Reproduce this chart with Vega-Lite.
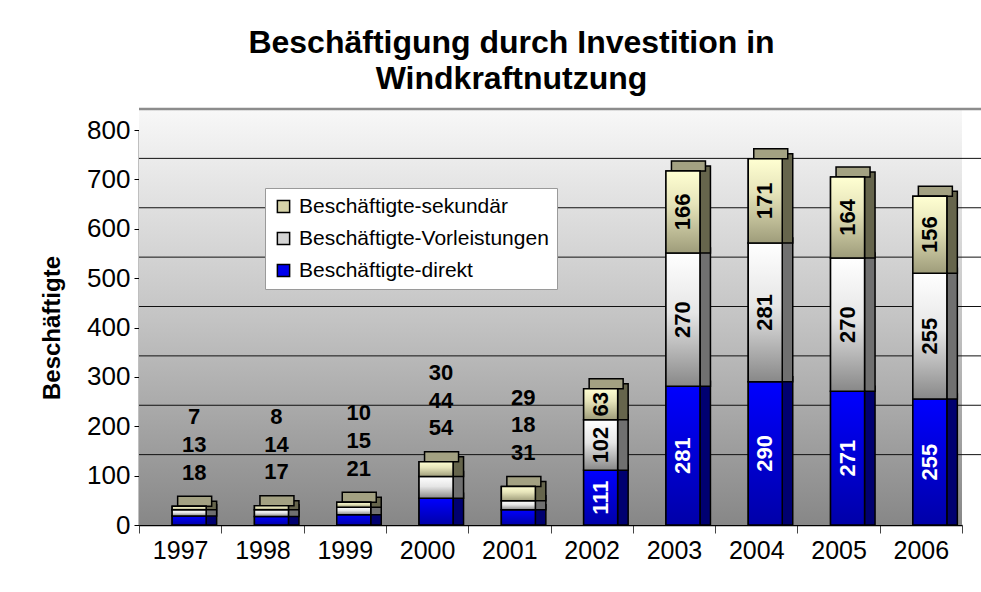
{
  "$schema": "https://vega.github.io/schema/vega-lite/v6.json",
  "autosize": {"type": "none"},
  "width": 823,
  "height": 395,
  "padding": {"left": 139, "top": 130, "right": 19, "bottom": 67},
  "background": "white",
  "title": {
    "text": ["Beschäftigung durch Investition in", "Windkraftnutzung"],
    "font": "Liberation Sans",
    "fontSize": 32,
    "fontWeight": "bold",
    "color": "black",
    "lineHeight": 36,
    "anchor": "middle",
    "dx": -39,
    "offset": 12
  },
  "config": {
    "font": "Liberation Sans",
    "view": {"stroke": null}
  },
  "datasets": {
    "bars": [
      {"year": "1997", "series": "Beschäftigte-direkt", "value": 18, "order": 0},
      {"year": "1997", "series": "Beschäftigte-Vorleistungen", "value": 13, "order": 1},
      {"year": "1997", "series": "Beschäftigte-sekundär", "value": 7, "order": 2},
      {"year": "1998", "series": "Beschäftigte-direkt", "value": 17, "order": 0},
      {"year": "1998", "series": "Beschäftigte-Vorleistungen", "value": 14, "order": 1},
      {"year": "1998", "series": "Beschäftigte-sekundär", "value": 8, "order": 2},
      {"year": "1999", "series": "Beschäftigte-direkt", "value": 21, "order": 0},
      {"year": "1999", "series": "Beschäftigte-Vorleistungen", "value": 15, "order": 1},
      {"year": "1999", "series": "Beschäftigte-sekundär", "value": 10, "order": 2},
      {"year": "2000", "series": "Beschäftigte-direkt", "value": 54, "order": 0},
      {"year": "2000", "series": "Beschäftigte-Vorleistungen", "value": 44, "order": 1},
      {"year": "2000", "series": "Beschäftigte-sekundär", "value": 30, "order": 2},
      {"year": "2001", "series": "Beschäftigte-direkt", "value": 31, "order": 0},
      {"year": "2001", "series": "Beschäftigte-Vorleistungen", "value": 18, "order": 1},
      {"year": "2001", "series": "Beschäftigte-sekundär", "value": 29, "order": 2},
      {"year": "2002", "series": "Beschäftigte-direkt", "value": 111, "order": 0},
      {"year": "2002", "series": "Beschäftigte-Vorleistungen", "value": 102, "order": 1},
      {"year": "2002", "series": "Beschäftigte-sekundär", "value": 63, "order": 2},
      {"year": "2003", "series": "Beschäftigte-direkt", "value": 281, "order": 0},
      {"year": "2003", "series": "Beschäftigte-Vorleistungen", "value": 270, "order": 1},
      {"year": "2003", "series": "Beschäftigte-sekundär", "value": 166, "order": 2},
      {"year": "2004", "series": "Beschäftigte-direkt", "value": 290, "order": 0},
      {"year": "2004", "series": "Beschäftigte-Vorleistungen", "value": 281, "order": 1},
      {"year": "2004", "series": "Beschäftigte-sekundär", "value": 171, "order": 2},
      {"year": "2005", "series": "Beschäftigte-direkt", "value": 271, "order": 0},
      {"year": "2005", "series": "Beschäftigte-Vorleistungen", "value": 270, "order": 1},
      {"year": "2005", "series": "Beschäftigte-sekundär", "value": 164, "order": 2},
      {"year": "2006", "series": "Beschäftigte-direkt", "value": 255, "order": 0},
      {"year": "2006", "series": "Beschäftigte-Vorleistungen", "value": 255, "order": 1},
      {"year": "2006", "series": "Beschäftigte-sekundär", "value": 156, "order": 2}
    ],
    "grid": [
      {"v": 100}, {"v": 200}, {"v": 300}, {"v": 400}, {"v": 500}, {"v": 600}, {"v": 700}
    ]
  },
  "layer": [
    {
      "data": {"values": [{}]},
      "mark": {
        "type": "rect",
        "y2Offset": -21,
        "color": {
          "gradient": "linear", "x1": 0, "y1": 0, "x2": 0, "y2": 1,
          "stops": [
            {"offset": 0, "color": "#F8F8F8"},
            {"offset": 0.5, "color": "#C4C4C4"},
            {"offset": 1, "color": "#878787"}
          ]
        }
      },
      "encoding": {
        "y": {"datum": 0, "type": "quantitative", "scale": {"domain": [0, 800]}},
        "y2": {"datum": 800}
      }
    },
    {
      "data": {"name": "grid"},
      "mark": {"type": "rule", "color": "#111111", "strokeWidth": 1, "yOffset": -21, "xOffset": 29, "x2Offset": 170},
      "encoding": {
        "y": {"field": "v", "type": "quantitative"}
      }
    },
    {
      "data": {"values": [{"v": 800}]},
      "mark": {"type": "rule", "color": "#8C8C8C", "strokeWidth": 2.5, "yOffset": -21, "xOffset": 29, "x2Offset": 170},
      "encoding": {
        "y": {"field": "v", "type": "quantitative"}
      }
    },
    {
      "data": {"name": "bars"},
      "transform": [
        {"stack": "value", "groupby": ["year"], "sort": [{"field": "order"}], "as": ["y0", "y1"]},
        {"joinaggregate": [{"op": "sum", "field": "value", "as": "total"}], "groupby": ["year"]},
        {"calculate": "(datum.y0 + datum.y1) / 2", "as": "mid"},
        {"calculate": "datum.total < 200 ? datum.total + 68 + 56 * datum.order : datum.mid", "as": "lab"}
      ],
      "encoding": {
        "x": {
          "field": "year", "type": "nominal",
          "scale": {"paddingInner": 0, "paddingOuter": 0},
          "axis": {
            "title": null, "labelAngle": 0, "labelFontSize": 25, "labelColor": "black",
            "labelFont": "Liberation Sans",
            "domainColor": "black", "domainWidth": 1.5, "tickColor": "#444", "tickSize": 8,
            "tickBand": "extent", "labelPadding": 5
          }
        }
      },
      "layer": [
        {
          "mark": {"type": "bar", "width": 11, "xOffset": 31, "yOffset": -5, "stroke": "black", "strokeWidth": 1.5},
          "encoding": {
            "y": {"field": "y1", "type": "quantitative"},
            "y2": {"field": "y0"},
            "color": {
              "condition": [
                {"test": "datum.order == 0", "value": "#000070"},
                {"test": "datum.order == 1", "value": "#707070"}
              ],
              "value": "#66654C"
            }
          }
        },
        {
          "transform": [{"filter": "datum.order == 2"}],
          "mark": {"type": "rect", "width": 34, "xOffset": 14.5, "y2Offset": -10, "color": "#A3A182", "stroke": "black", "strokeWidth": 1.5},
          "encoding": {
            "y": {"field": "y1", "type": "quantitative"},
            "y2": {"field": "y1"}
          }
        },
        {
          "mark": {"type": "bar", "width": 34, "xOffset": 9, "stroke": "black", "strokeWidth": 1.5},
          "encoding": {
            "y": {
              "field": "y1", "type": "quantitative",
              "scale": {"domain": [0, 800]},
              "axis": {
                "title": "Beschäftigte", "titleFontSize": 24, "titleFontWeight": "bold",
                "titleColor": "black", "titlePadding": 22,
                "labelFontSize": 26, "labelColor": "black", "values": [0, 100, 200, 300, 400, 500, 600, 700, 800],
                "grid": false, "domainColor": "black", "domainWidth": 1.5, "tickColor": "black",
                "tickSize": 5, "labelPadding": 4
              }
            },
            "y2": {"field": "y0"},
            "color": {
              "field": "series", "type": "nominal",
              "scale": {
                "domain": ["Beschäftigte-sekundär", "Beschäftigte-Vorleistungen", "Beschäftigte-direkt"],
                "range": ["#D6D3A8", "#D4D4D4", "#0000EE"]
              },
              "legend": {
                "title": null, "orient": "none", "legendX": 126, "legendY": 58,
                "labelFontSize": 21, "labelColor": "black", "labelFont": "Liberation Sans",
                "labelLimit": 500,
                "symbolType": "square", "symbolSize": 150, "symbolStrokeColor": "black",
                "symbolStrokeWidth": 1.5, "symbolOpacity": 1,
                "fillColor": "white", "strokeColor": "#9A9A9A", "padding": 8,
                "rowPadding": 10, "labelOffset": 5
              }
            }
          }
        },
        {
          "transform": [{"filter": "datum.order == 0"}],
          "mark": {
            "type": "bar", "width": 34, "xOffset": 9, "stroke": "black", "strokeWidth": 1.5,
            "color": {
              "gradient": "linear", "x1": 0, "y1": 0, "x2": 0, "y2": 1,
              "stops": [{"offset": 0, "color": "#0000FF"}, {"offset": 1, "color": "#0000A8"}]
            }
          },
          "encoding": {
            "y": {"field": "y1", "type": "quantitative"},
            "y2": {"field": "y0"}
          }
        },
        {
          "transform": [{"filter": "datum.order == 1"}],
          "mark": {
            "type": "bar", "width": 34, "xOffset": 9, "stroke": "black", "strokeWidth": 1.5,
            "color": {
              "gradient": "linear", "x1": 0, "y1": 0, "x2": 0, "y2": 1,
              "stops": [{"offset": 0, "color": "#FFFFFF"}, {"offset": 0.45, "color": "#E6E6E6"}, {"offset": 1, "color": "#888888"}]
            }
          },
          "encoding": {
            "y": {"field": "y1", "type": "quantitative"},
            "y2": {"field": "y0"}
          }
        },
        {
          "transform": [{"filter": "datum.order == 2"}],
          "mark": {
            "type": "bar", "width": 34, "xOffset": 9, "stroke": "black", "strokeWidth": 1.5,
            "color": {
              "gradient": "linear", "x1": 0, "y1": 0, "x2": 0, "y2": 1,
              "stops": [{"offset": 0, "color": "#FFFFD2"}, {"offset": 0.4, "color": "#E6E4BA"}, {"offset": 1, "color": "#9E9C7A"}]
            }
          },
          "encoding": {
            "y": {"field": "y1", "type": "quantitative"},
            "y2": {"field": "y0"}
          }
        },
        {
          "transform": [{"filter": "datum.total < 200"}],
          "mark": {"type": "text", "xOffset": 14, "fontSize": 22, "fontWeight": "bold", "color": "black", "baseline": "middle"},
          "encoding": {
            "y": {"field": "lab", "type": "quantitative"},
            "text": {"field": "value", "type": "quantitative"}
          }
        },
        {
          "transform": [{"filter": "datum.total >= 200"}],
          "mark": {"type": "text", "xOffset": 9, "angle": 270, "fontSize": 22, "fontWeight": "bold", "baseline": "middle", "align": "center"},
          "encoding": {
            "y": {"field": "lab", "type": "quantitative"},
            "text": {"field": "value", "type": "quantitative"},
            "color": {"condition": {"test": "datum.order == 0", "value": "white"}, "value": "black"}
          }
        }
      ]
    }
  ]
}
